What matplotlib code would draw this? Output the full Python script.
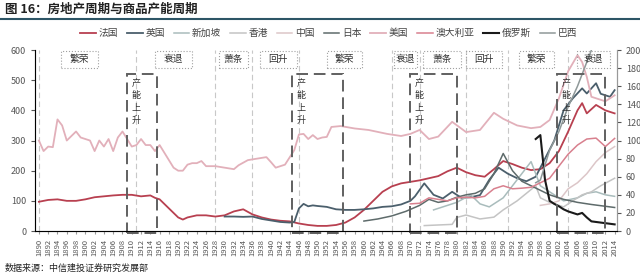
import matplotlib.pyplot as plt
from matplotlib.patches import Rectangle
import numpy as np

plt.rcParams['font.family'] = ['Noto Sans CJK SC', 'DejaVu Sans']

# series (left-axis units, right axis = left / 3)
fr_years = [1890, 1892, 1894, 1896, 1898, 1900, 1902, 1904, 1906, 1908, 1910, 1912, 1914, 1915, 1916, 1918,
            1920, 1921, 1922, 1924, 1926, 1928, 1930, 1932, 1934, 1936, 1938, 1940, 1942, 1944, 1946, 1948,
            1950, 1952, 1954, 1956, 1958, 1960, 1962, 1964, 1966, 1968, 1970, 1972, 1974, 1976, 1978, 1980,
            1982, 1984, 1986, 1988, 1990, 1992, 1994, 1996, 1998, 2000, 2002, 2004, 2006, 2007, 2008, 2010,
            2012, 2014]
fr_vals = [97, 103, 105, 100, 100, 105, 112, 115, 118, 120, 120, 115, 118, 110, 105, 75,
           45, 38, 45, 52, 52, 48, 52, 65, 72, 55, 45, 38, 34, 32, 25, 20,
           17, 17, 20, 28, 45, 70, 100, 130, 148, 158, 163, 168, 175, 182, 198, 210,
           195, 185, 180, 205, 232, 222, 210, 202, 205, 225, 265, 330, 400, 424, 390, 418,
           400, 390]

us_years = [1890, 1891, 1892, 1893, 1894, 1895, 1896, 1897, 1898, 1899, 1900, 1901, 1902, 1903, 1904, 1905,
            1906, 1907, 1908, 1909, 1910, 1911, 1912, 1913, 1914, 1915, 1916, 1917, 1918, 1919, 1920, 1921,
            1922, 1923, 1924, 1925, 1926, 1928, 1930, 1932, 1933, 1935, 1937, 1939, 1940, 1941, 1943, 1945,
            1946, 1947, 1948, 1949, 1950, 1951, 1952, 1953, 1955, 1958, 1961, 1965, 1968, 1970, 1972, 1974,
            1976, 1979, 1982, 1985, 1988, 1990, 1993, 1996, 1998, 2000, 2002, 2004, 2006, 2007, 2008, 2009,
            2010, 2012, 2014]
us_vals = [300, 265, 280, 278, 370, 350, 300, 315, 330, 310, 305, 300, 265, 300, 280, 305,
           265, 310, 330, 305, 280, 285, 305, 285, 285, 265, 285, 260, 235, 210, 200, 200,
           220, 225, 225, 232, 215, 215, 210, 205, 218, 235, 240, 245, 228, 210, 220, 268,
           320, 322, 305, 318, 305, 310, 312, 345, 348, 340, 335, 322, 315, 322, 335, 305,
           313, 362, 328, 335, 392, 372, 350, 341, 345, 368, 440, 530, 583, 560, 511, 445,
           440, 430, 450]

uk_years = [1930, 1932, 1934, 1936, 1938, 1940, 1942, 1944, 1945, 1946, 1947, 1948, 1949, 1950, 1952, 1954,
            1956, 1958, 1960, 1962, 1964, 1966, 1968, 1970, 1971, 1973, 1975, 1977, 1979, 1981, 1983, 1985,
            1987, 1989, 1991, 1993, 1995, 1997, 1999, 2001, 2003, 2005, 2007, 2008, 2010, 2011, 2013, 2014]
uk_vals = [48, 48, 47, 48, 40, 35, 30, 28, 30, 75, 90, 82, 85, 83, 80, 72,
           70, 70, 72, 75, 80, 82, 88, 100, 115, 158, 120, 108, 130, 110, 112, 119,
           170, 210, 190, 175, 165, 180, 240, 300, 400, 440, 473, 456, 490, 455, 445, 467]

jp_years = [1960, 1963, 1966, 1969, 1972, 1974, 1976, 1978, 1980, 1982, 1984, 1986, 1988, 1990, 1992, 1994,
            1996, 1998, 2000, 2003, 2006, 2009, 2012, 2014]
jp_vals = [33, 40, 50, 65, 85, 105, 95, 100, 112, 120, 125, 140, 190, 257, 200, 165,
           150, 135, 120, 105, 95, 88, 82, 78]

au_years = [1970, 1972, 1974, 1976, 1978, 1980, 1982, 1984, 1986, 1988, 1990, 1992, 1994, 1996, 1998, 2000,
            2002, 2004, 2006, 2008, 2010, 2012, 2014]
au_vals = [90, 92, 110, 105, 100, 110, 112, 110, 115, 140, 150, 140, 142, 145, 160, 175,
           215, 255, 285, 305, 308, 280, 307]

sg_years = [1975, 1980, 1983, 1985, 1987, 1990, 1993, 1996, 1998, 2000, 2003, 2006, 2008, 2010, 2012, 2014]
sg_vals = [70, 95, 120, 90, 80, 110, 170, 230, 150, 130, 100, 110, 125, 130, 120, 115]

hk_years = [1973, 1976, 1979, 1980, 1982, 1985, 1988, 1990, 1993, 1995, 1997, 1998, 2000, 2003, 2005, 2007,
            2009, 2011, 2014]
hk_vals = [18, 20, 22, 45, 53, 40, 46, 70, 100, 125, 150, 110, 95, 80, 100, 120, 130, 150, 175]

cn_years = [1998, 2000, 2002, 2004, 2006, 2008, 2010, 2012, 2014]
cn_vals = [85, 90, 100, 140, 160, 190, 230, 260, 280]

ru_years = [1997, 1998, 1999, 2000, 2001, 2002, 2003, 2004, 2005, 2006, 2007, 2008, 2009, 2010, 2011, 2012,
            2013, 2014]
ru_vals = [305, 318, 170, 100, 90, 82, 72, 65, 60, 55, 60, 45, 32, 30, 28, 26, 24, 22]

br_years = [1997, 1998, 2000, 2002, 2004, 2006, 2008, 2010]
br_vals = [160, 169, 268, 330, 412, 480, 560, 640]

series = [
    ('法国', fr_years, fr_vals, '#b84050', 1.3),
    ('英国', uk_years, uk_vals, '#4b5f6c', 1.3),
    ('新加坡', sg_years, sg_vals, '#a9bcbc', 1.1),
    ('香港', hk_years, hk_vals, '#c4c4c4', 1.1),
    ('中国', cn_years, cn_vals, '#dcc6c8', 1.1),
    ('日本', jp_years, jp_vals, '#5e6b6b', 1.1),
    ('美国', us_years, us_vals, '#e2b0ba', 1.3),
    ('澳大利亚', au_years, au_vals, '#d8808e', 1.1),
    ('俄罗斯', ru_years, ru_vals, '#1a1a1a', 1.5),
    ('巴西', br_years, br_vals, '#8f9999', 1.1),
]

phase_labels = ['繁荣', '衰退', '萧条', '回升', '繁荣', '衰退', '萧条', '回升', '繁荣', '衰退']
phase_spans = [(1894.7, 1902.7), (1915, 1923), (1928.8, 1935), (1937.6, 1945.5), (1952, 1959.5),
               (1966.4, 1971.4), (1972.7, 1980.9), (1982, 1989.7), (1993.3, 2000.9), (2005.8, 2013.1)]
cycle_lines = [1890, 1911, 1928, 1936, 1946, 1966, 1972, 1982, 1991, 2004]
capacity_spans = [(1909, 1915.5), (1944.5, 1955.5), (1970, 1980), (2001.5, 2012)]

fig = plt.figure(figsize=(6.4, 2.78), dpi=100)
ax = fig.add_axes([0.055, 0.169, 0.909, 0.651])

for x in cycle_lines:
    ax.axvline(x, color='#c8c8c8', lw=0.8, ls=(0, (5, 3)), zorder=1)

for name, xs, ys, c, lw in series:
    ax.plot(xs, ys, color=c, lw=lw, label=name, zorder=3)

for (a, b), lab in zip(phase_spans, phase_labels):
    ax.add_patch(Rectangle((a, 540), b - a, 58, fill=False, ec='#a0a0a0', lw=0.8, ls=':', zorder=4))
    ax.text((a + b) / 2, 569, lab, ha='center', va='center', fontsize=7, color='#333333', zorder=5)

for a, b in capacity_spans:
    ax.add_patch(Rectangle((a, -8), b - a, 528, fill=False, ec='#606060', lw=1.4,
                           ls=(0, (6, 3)), clip_on=False, zorder=4))
    ax.text(a + 1.0, 505, '产\n能\n上\n升', ha='left', va='top', fontsize=6.5, color='#333333',
            linespacing=1.5, zorder=5)

ax.set_xlim(1889.2, 2014.5)
ax.set_ylim(0, 600)
ax.set_yticks(range(0, 601, 100))
ax.set_xticks(range(1890, 2015, 2))
ax.set_xticklabels([str(y) for y in range(1890, 2015, 2)], rotation=90, fontsize=5.5, color='#555555')
ax.tick_params(axis='y', labelsize=6.5, colors='#555555', length=3)
ax.tick_params(axis='x', length=2, colors='#999999', labelcolor='#555555')
for s in ['top']:
    ax.spines[s].set_visible(False)
for s in ['left', 'right', 'bottom']:
    ax.spines[s].set_color('#999999')

ax2 = ax.twinx()
ax2.set_ylim(0, 200)
ax2.set_yticks(range(0, 201, 20))
ax2.tick_params(axis='y', labelsize=6.5, colors='#555555', length=3)
ax2.spines['top'].set_visible(False)
ax2.spines['right'].set_color('#999999')

fig.legend(loc='center', bbox_to_anchor=(0.514, 0.881), ncol=10, frameon=False, fontsize=7,
           handlelength=1.6, handletextpad=0.3, columnspacing=0.9, labelcolor='#444444')

fig.text(0.008, 0.968, '图 16：房地产周期与商品产能周期', fontsize=9, fontweight='bold',
         color='#222222', va='center')
fig.add_artist(plt.Line2D([0, 1], [0.932, 0.932], color='#2d5566', lw=1.5, transform=fig.transFigure))
fig.text(0.008, 0.035, '数据来源：中信建投证券研究发展部', fontsize=6.5, color='#222222', va='center')

fig.savefig('out.png', dpi=100)
